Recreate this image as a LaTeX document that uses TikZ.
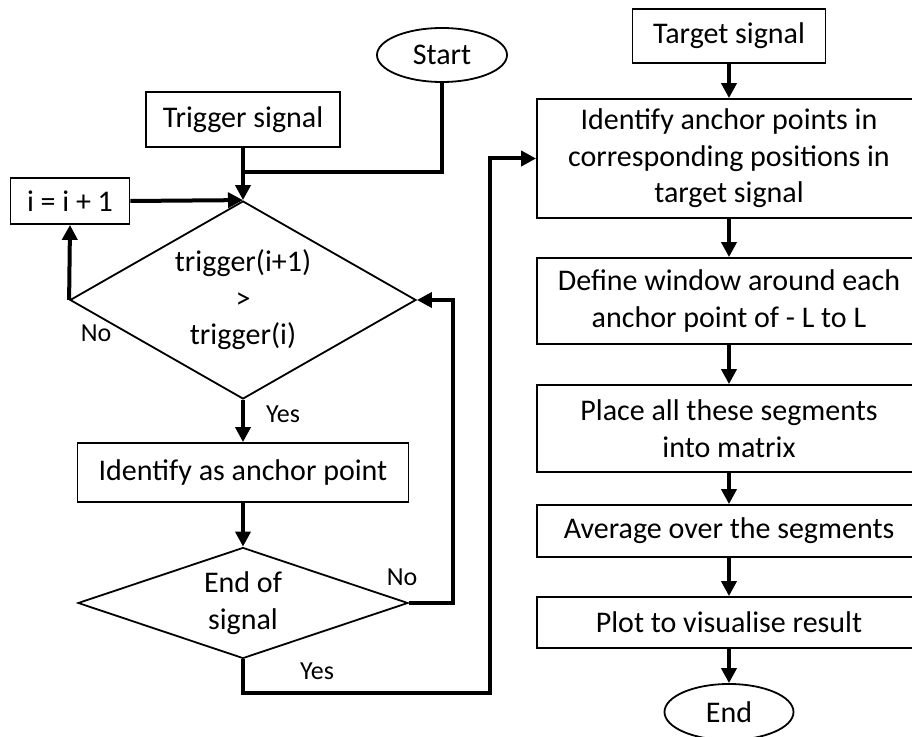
\documentclass[tikz,border=0pt]{standalone}
\usepackage{fontspec}
\setmainfont{Carlito}
\usetikzlibrary{arrows.meta,shapes.geometric}

\begin{document}
\begin{tikzpicture}[x=0.5pt,y=-0.5pt,
  txt/.style={font=\fontsize{15}{18.3}\selectfont, align=center},
  box/.style={txt, draw, line width=0.9pt, inner sep=0pt},
  term/.style={txt, draw, ellipse, line width=0.9pt, inner sep=0pt},
  decide/.style={txt, draw, diamond, line width=0.9pt, inner sep=0pt},
  lbl/.style={font=\fontsize{13}{15}\selectfont, inner sep=0pt},
  link/.style={line width=2pt},
  flow/.style={line width=2pt, -{Triangle[length=7.5pt,width=7.5pt]}}]
\useasboundingbox (0,0) rectangle (912,737);
\clip (0,0) rectangle (912,737);

% left column: finding the anchor points in the trigger signal
\node[term, minimum width=65pt, minimum height=27pt] (start) at (442,55) {Start};
\node[box, minimum width=97pt, minimum height=27.5pt] (trig) at (243,119.5) {Trigger signal};
\node[box, minimum width=59.5pt, minimum height=23pt] (inc) at (70,201) {i = i + 1};
\node[decide, aspect=1.75, minimum width=173pt, minimum height=99pt] (cmp) at (243,300)
  {trigger(i+1)\\>\\trigger(i)};
\node[box, minimum width=165.5pt, minimum height=29.5pt] (mark) at (243,472.5) {Identify as anchor point};
\node[decide, aspect=2.97, minimum width=165pt, minimum height=55.5pt] (eos) at (243,603)
  {End of\\signal};

% right column: processing the target signal
\node[box, minimum width=96.5pt, minimum height=27pt] (tgt) at (729,36) {Target signal};
\node[box, minimum width=192pt, minimum height=59.5pt] (ident) at (729,158.5)
  {Identify anchor points in\\corresponding positions in\\target signal};
\node[box, minimum width=192pt, minimum height=43pt] (win) at (729,301)
  {Define window around each\\anchor point of - L to L};
\node[box, minimum width=192pt, minimum height=43.5pt] (place) at (729,428.5)
  {Place all these segments\\into matrix};
\node[box, minimum width=192pt, minimum height=26pt] (avg) at (729,531) {Average over the segments};
\node[box, minimum width=192pt, minimum height=25.5pt] (plot) at (729,622.5) {Plot to visualise result};
\node[term, minimum width=64.5pt, minimum height=28pt] (stop) at (729,712) {End};

% routing points
\coordinate (join) at (243,172);
\coordinate (yesturn) at (490,693);

% connectors
\draw[link] (start.south) |- (join);
\draw[flow] (trig.south) -- (cmp.north);
\draw[flow] (inc.east) -- (cmp.north);
\draw[flow] (cmp.west) -- (inc.south);
\draw[flow] (cmp.south) -- (mark.north);
\draw[flow] (mark.south) -- (eos.north);
\draw[flow] (eos.east) -- ++(44,0) |- (cmp.east);
\draw[flow] (eos.south) |- (yesturn) |- (ident.west);

\draw[flow] (tgt.south) -- (ident.north);
\draw[flow] (ident.south) -- (win.north);
\draw[flow] (win.south) -- (place.north);
\draw[flow] (place.south) -- (avg.north);
\draw[flow] (avg.south) -- (plot.north);
\draw[flow] (plot.south) -- (stop.north);

% branch labels
\node[lbl] (no1) at (96,333) {No};
\node[lbl] (yes1) at (283,414) {Yes};
\node[lbl] (no2) at (402,577) {No};
\node[lbl] (yes2) at (317,671) {Yes};
\end{tikzpicture}
\end{document}
